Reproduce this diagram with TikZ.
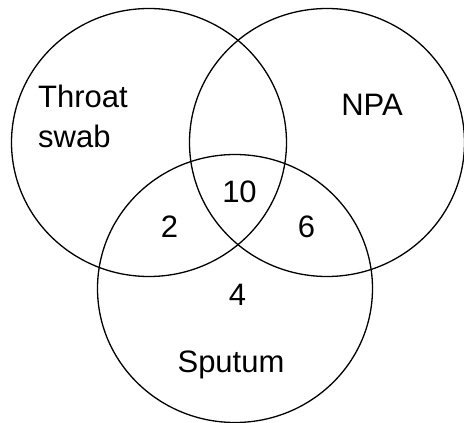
\documentclass[tikz,border=0pt]{standalone}
\usepackage{fontspec}
\setmainfont{Liberation Sans}
\usetikzlibrary{shapes.geometric}
\begin{document}
\begin{tikzpicture}[x=1pt,y=-1pt,
  setshape/.style={draw=black, line width=1.3pt, ellipse, inner sep=0pt, minimum width=275pt, minimum height=268pt},
  lbl/.style={font=\fontsize{31}{36}\selectfont, text=black, inner sep=0pt, anchor=base}]
\useasboundingbox (0,0) rectangle (464,423);
\node[setshape] (throat) at (149,142.5) {};
\node[setshape] (npa) at (327,142.5) {};
\node[setshape] (sputum) at (235,288.5) {};
\node[lbl, anchor=base west] (t1) at (38,107) {Throat};
\node[lbl, anchor=base west] (t2) at (38,147) {swab};
\node[lbl] (n) at (372,115) {NPA};
\node[lbl] (ten) at (239.5,202) {10};
\node[lbl] (two) at (169.5,237) {2};
\node[lbl] (six) at (306.5,237) {6};
\node[lbl] (four) at (237.5,305) {4};
\node[lbl] (sp) at (231,372) {Sputum};
\end{tikzpicture}
\end{document}
